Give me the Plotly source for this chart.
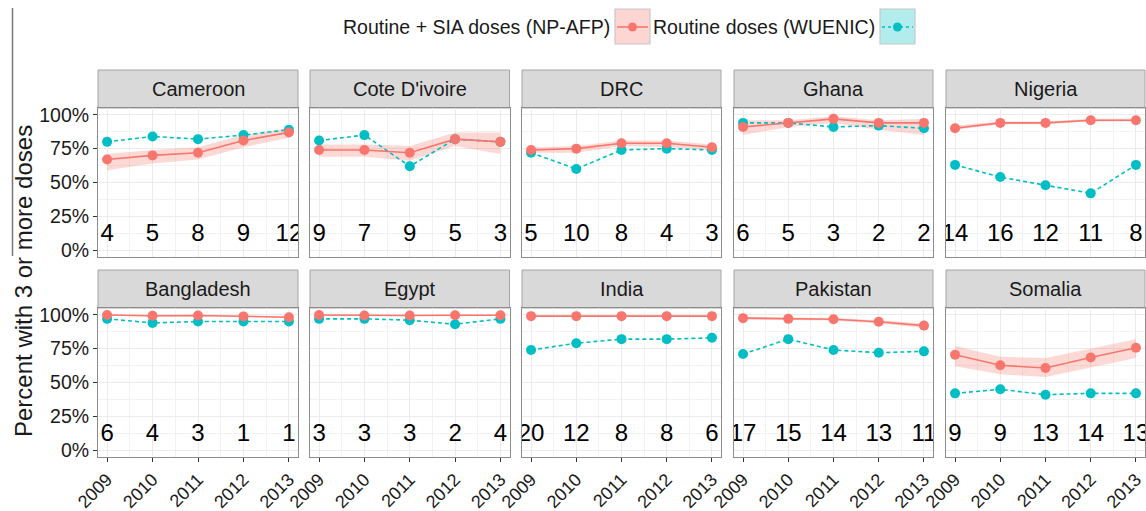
import plotly.graph_objects as go

# ---------------- data ----------------
years = [2009, 2010, 2011, 2012, 2013]
countries = ["Cameroon", "Cote D'ivoire", "DRC", "Ghana", "Nigeria",
             "Bangladesh", "Egypt", "India", "Pakistan", "Somalia"]

# Routine + SIA doses (NP-AFP), percent with 3+ doses
npafp = [
    [67, 70, 72, 81, 87],
    [74, 74, 72, 82, 80],
    [74, 75, 79, 79, 76],
    [91, 94, 97, 94, 94],
    [90, 94, 94, 96, 96],
    [99.8, 99.3, 99.5, 98.8, 98.2],
    [99.8, 99.5, 99.5, 99.7, 99.7],
    [99, 99, 99, 99, 99],
    [97.5, 97, 96.7, 94.8, 92],
    [70.5, 62.7, 60.7, 68.5, 75.7],
]
npafp_low = [
    [59, 64, 67, 76, 83],
    [69, 69, 66, 77, 71],
    [72, 72, 77, 76, 74],
    [85, 91, 94, 89, 85],
    [89, 93, 93, 95, 95],
    [99.3, 98.8, 99.0, 98.3, 97.7],
    [99.5, 99.2, 99.2, 99.4, 99.4],
    [98.5, 98.5, 98.5, 98.5, 98.5],
    [96.5, 96, 95.7, 93.5, 90.5],
    [62, 56, 54, 61, 68],
]
npafp_high = [
    [71, 74, 76, 85, 90],
    [78, 78, 77, 87, 87],
    [76, 77, 81, 81, 78],
    [96, 96, 99, 96, 97],
    [92, 95, 95, 97, 97],
    [100, 99.8, 100, 99.3, 98.7],
    [100, 99.8, 99.8, 100, 100],
    [99.5, 99.5, 99.5, 99.5, 99.5],
    [98.5, 98, 97.7, 96, 93.5],
    [77, 69, 68, 75, 82],
]
# Routine doses (WUENIC)
wuenic = [
    [80, 84, 82, 85, 89],
    [81, 85, 62, 82, 80],
    [72, 60, 74, 75, 74],
    [94, 94, 91, 92, 90],
    [63, 54, 48, 42, 63],
    [97, 94, 95, 95, 95],
    [97, 97, 96, 93, 97],
    [74, 79, 82, 82, 83],
    [71, 82, 74, 72, 73],
    [42, 45, 41, 42, 42],
]
# counts printed in each panel
counts = [
    [4, 5, 8, 9, 12],
    [9, 7, 9, 5, 3],
    [5, 10, 8, 4, 3],
    [6, 5, 3, 2, 2],
    [14, 16, 12, 11, 8],
    [6, 4, 3, 1, 1],
    [3, 3, 3, 2, 4],
    [20, 12, 8, 8, 6],
    [17, 15, 14, 13, 11],
    [9, 9, 13, 14, 13],
]
y_ticks = [0, 25, 50, 75, 100]
y_tick_labels = ["0%", "25%", "50%", "75%", "100%"]
series_names = ["Routine + SIA doses (NP-AFP)", "Routine doses (WUENIC)"]

# ---------------- style / layout ----------------
W, H = 1146, 511
RED = "#F8766D"
CYAN = "#00BFC4"
FONT = "Liberation Sans, Arial, sans-serif"

col_px = [(98, 298), (310, 509.5), (522, 721), (734, 933), (946, 1145)]
row_plot_px = [(108, 257), (308, 457)]
row_strip_px = [(70, 108), (270, 308)]
label_y = 11


def px_x(p):
    return p / W


def px_y(p):
    return 1 - p / H


fig = go.Figure()
layout = dict(
    width=W, height=H, margin=dict(l=0, r=0, t=0, b=0),
    paper_bgcolor="white", plot_bgcolor="white",
    showlegend=False, font=dict(family=FONT, color="#1a1a1a"),
)
shapes = []
annotations = []

for i, c in enumerate(countries):
    r, col = divmod(i, 5)
    n = i + 1
    xa = "x" if n == 1 else f"x{n}"
    ya = "y" if n == 1 else f"y{n}"
    xkey = "xaxis" if n == 1 else f"xaxis{n}"
    ykey = "yaxis" if n == 1 else f"yaxis{n}"

    x0, x1 = col_px[col]
    yt, yb = row_plot_px[r]
    bottom = (r == 1)
    left = (col == 0)

    layout[xkey] = dict(
        domain=[px_x(x0), px_x(x1)], anchor=ya, range=[2008.8, 2013.2],
        tickvals=years, ticktext=[str(v) for v in years],
        showticklabels=bottom, ticks="outside" if bottom else "",
        ticklen=4, tickcolor="#333333", tickangle=-45,
        tickfont=dict(size=18, color="#1a1a1a", family=FONT),
        showgrid=True, gridcolor="#EBEBEB", gridwidth=1.2,
        minor=dict(dtick=0.5, tick0=2008.5, showgrid=True, gridcolor="#F2F2F2", gridwidth=0.6),
        showline=True, mirror=True, linecolor="#8C8C8C", linewidth=1,
        zeroline=False, automargin=False, fixedrange=True,
    )
    layout[ykey] = dict(
        domain=[px_y(yb), px_y(yt)], anchor=xa, range=[-5, 105],
        tickvals=y_ticks, ticktext=y_tick_labels,
        showticklabels=left, ticks="outside" if left else "",
        ticklen=4, tickcolor="#333333",
        tickfont=dict(size=19.5, color="#1a1a1a", family=FONT),
        showgrid=True, gridcolor="#EBEBEB", gridwidth=1.2,
        minor=dict(dtick=12.5, tick0=0, showgrid=True, gridcolor="#F2F2F2", gridwidth=0.6),
        showline=True, mirror=True, linecolor="#8C8C8C", linewidth=1,
        zeroline=False, automargin=False, fixedrange=True,
    )

    # ribbon
    fig.add_trace(go.Scatter(
        x=years + years[::-1], y=npafp_high[i] + npafp_low[i][::-1],
        fill="toself", fillcolor="rgba(248,118,109,0.28)", line=dict(width=0),
        mode="lines", hoverinfo="skip", xaxis=xa, yaxis=ya,
    ))
    # WUENIC dashed
    fig.add_trace(go.Scatter(
        x=years, y=wuenic[i], mode="lines+markers", name=series_names[1],
        line=dict(color=CYAN, width=1.6, dash="4px,3px"),
        marker=dict(color=CYAN, size=10), xaxis=xa, yaxis=ya,
    ))
    # NP-AFP solid
    fig.add_trace(go.Scatter(
        x=years, y=npafp[i], mode="lines+markers", name=series_names[0],
        line=dict(color=RED, width=1.6),
        marker=dict(color=RED, size=10), xaxis=xa, yaxis=ya,
    ))
    # counts
    fig.add_trace(go.Scatter(
        x=years, y=[label_y] * len(years), mode="text",
        text=[str(v) for v in counts[i]], textposition="middle center",
        textfont=dict(size=24, color="black", family=FONT),
        cliponaxis=True, hoverinfo="skip", xaxis=xa, yaxis=ya,
    ))

    # strip
    st, sb = row_strip_px[r]
    shapes.append(dict(type="rect", xref="paper", yref="paper",
                       x0=px_x(x0), x1=px_x(x1), y0=px_y(sb), y1=px_y(st),
                       fillcolor="#D9D9D9", line=dict(color="#A6A6A6", width=1), layer="below"))
    annotations.append(dict(xref="paper", yref="paper", x=px_x((x0 + x1) / 2), y=px_y((st + sb) / 2),
                            text=c, showarrow=False, xanchor="center", yanchor="middle",
                            font=dict(size=20, color="#1a1a1a", family=FONT)))

# y axis title
annotations.append(dict(xref="paper", yref="paper", x=px_x(23), y=px_y(281),
                        text="Percent with 3 or more doses", textangle=-90, showarrow=False,
                        xanchor="center", yanchor="middle",
                        font=dict(size=24, color="#1a1a1a", family=FONT)))

# legend (text then key, as in the reference)
leg_y = 27
keys = [(615, 650, RED, "solid", "rgba(248,118,109,0.3)", 612),
        (880, 915, CYAN, "dot", "rgba(0,191,196,0.3)", 877)]
for (k0, k1, colr, dash, fillc, tx), name in zip(keys, series_names):
    shapes.append(dict(type="rect", xref="paper", yref="paper",
                       x0=px_x(k0), x1=px_x(k1), y0=px_y(44), y1=px_y(9),
                       fillcolor=fillc, line=dict(color="#C8C8C8", width=1.2)))
    shapes.append(dict(type="line", xref="paper", yref="paper",
                       x0=px_x(k0 + 2), x1=px_x(k1 - 2), y0=px_y(leg_y), y1=px_y(leg_y),
                       line=dict(color=colr, width=1.6, dash=dash)))
    cx = (k0 + k1) / 2
    shapes.append(dict(type="circle", xref="paper", yref="paper",
                       x0=px_x(cx - 4.5), x1=px_x(cx + 4.5), y0=px_y(leg_y + 4.5), y1=px_y(leg_y - 4.5),
                       fillcolor=colr, line=dict(color=colr, width=0)))
    annotations.append(dict(xref="paper", yref="paper", x=px_x(tx), y=px_y(leg_y),
                            text=name, showarrow=False, xanchor="right", yanchor="middle",
                            font=dict(size=19.5, color="#1a1a1a", family=FONT)))

# stray vertical rule at left edge of the reference
shapes.append(dict(type="line", xref="paper", yref="paper",
                   x0=px_x(12.5), x1=px_x(12.5), y0=px_y(8), y1=px_y(256),
                   line=dict(color="#777777", width=1.5)))

layout["shapes"] = shapes
layout["annotations"] = annotations
fig.update_layout(**layout)
fig.write_html("out.html",
               config={"displayModeBar": False},
               post_script="document.body.style.margin='0';document.body.style.overflow='hidden';")
